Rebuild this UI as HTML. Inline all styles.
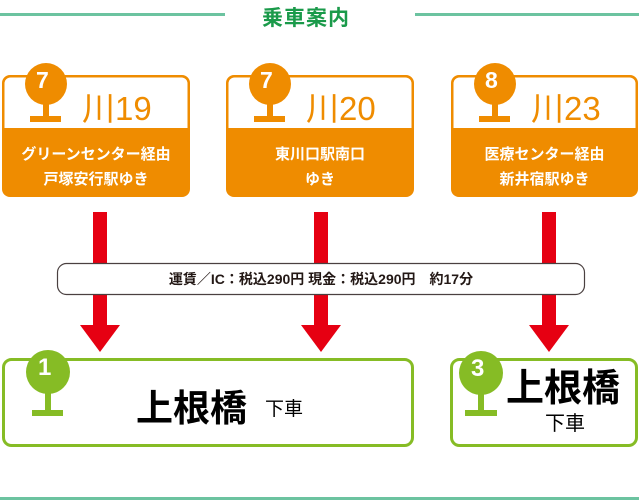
<!DOCTYPE html>
<html><head><meta charset="utf-8"><style>
body{margin:0;width:639px;height:502px;background:#fff;position:relative;overflow:hidden;font-family:"Liberation Sans","Noto Sans CJK JP",sans-serif}
.a{position:absolute;white-space:nowrap}
</style></head><body>
<svg width="639" height="502" style="position:absolute;left:0;top:0">
<rect x="0" y="13" width="225" height="3" fill="#6cc3a0"/>
<rect x="415" y="13" width="224" height="3" fill="#6cc3a0"/>
<rect x="0" y="497" width="639" height="3" fill="#6cc3a0"/>
<g fill="#ef8c00">
<rect x="2" y="75" width="188" height="122" rx="8"/>
<rect x="226" y="75" width="188" height="122" rx="8"/>
<rect x="451" y="75" width="187" height="122" rx="8"/>
</g>
<g fill="#fff">
<rect x="4.5" y="77.5" width="183" height="57" rx="6"/>
<rect x="228.5" y="77.5" width="183" height="57" rx="6"/>
<rect x="453.5" y="77.5" width="182" height="57" rx="6"/>
</g>
<g fill="#ef8c00">
<rect x="4.5" y="128" width="183" height="7"/>
<rect x="228.5" y="128" width="183" height="7"/>
<rect x="453.5" y="128" width="182" height="7"/>
<circle cx="46" cy="84" r="21"/><rect x="43" y="100" width="6" height="18"/><rect x="30" y="116" width="31" height="6"/>
<circle cx="270" cy="84" r="21"/><rect x="267" y="100" width="6" height="18"/><rect x="254" y="116" width="31" height="6"/>
<circle cx="495" cy="84" r="21"/><rect x="492" y="100" width="6" height="18"/><rect x="479" y="116" width="31" height="6"/>
</g>
<g fill="#e60012">
<rect x="93" y="212" width="14" height="115"/><polygon points="80,325 120,325 100,352"/>
<rect x="314" y="212" width="14" height="115"/><polygon points="301,325 341,325 321,352"/>
<rect x="542" y="212" width="14" height="115"/><polygon points="529,325 569,325 549,352"/>
</g>
<rect x="57.5" y="263.5" width="527" height="31" rx="9" fill="#fff" stroke="#4a4040" stroke-width="1.2"/>
<rect x="3.5" y="359.5" width="409" height="86" rx="8" fill="#fff" stroke="#86bc25" stroke-width="3"/>
<rect x="451.5" y="359.5" width="185" height="86" rx="8" fill="#fff" stroke="#86bc25" stroke-width="3"/>
<g fill="#86bc25">
<circle cx="48" cy="372" r="22"/><rect x="45" y="390" width="6" height="22"/><rect x="32" y="410" width="31" height="6"/>
<circle cx="481" cy="373" r="22"/><rect x="478" y="390" width="6" height="22"/><rect x="465" y="410" width="32" height="6"/>
</g>
</svg>
<div class="a" style="left:262px;top:2px;font-size:21px;font-weight:bold;color:#1a9a4a;letter-spacing:1px">乗車案内</div>
<div class="a" style="left:36px;top:67px;font-size:23px;font-weight:bold;color:#fff">7</div>
<div class="a" style="left:260px;top:67px;font-size:23px;font-weight:bold;color:#fff">7</div>
<div class="a" style="left:485px;top:67px;font-size:23px;font-weight:bold;color:#fff">8</div>
<div class="a" style="left:82px;top:82px;font-size:33px;color:#ef8c00">川19</div>
<div class="a" style="left:306px;top:82px;font-size:33px;color:#ef8c00">川20</div>
<div class="a" style="left:531px;top:82px;font-size:33px;color:#ef8c00">川23</div>
<div class="a" style="left:4px;width:184px;top:142px;text-align:center;font-size:15px;font-weight:bold;line-height:25px;color:#fff">グリーンセンター経由<br>戸塚安行駅ゆき</div>
<div class="a" style="left:228px;width:184px;top:142px;text-align:center;font-size:15px;font-weight:bold;line-height:25px;color:#fff">東川口駅南口<br>ゆき</div>
<div class="a" style="left:453px;width:183px;top:142px;text-align:center;font-size:15px;font-weight:bold;line-height:25px;color:#fff">医療センター経由<br>新井宿駅ゆき</div>
<div class="a" style="left:57px;width:528px;top:269px;text-align:center;font-size:14px;font-weight:bold;color:#231815">運賃／IC：税込290円 現金：税込290円　約17分</div>
<div class="a" style="left:38px;top:354px;font-size:24px;font-weight:bold;color:#fff">1</div>
<div class="a" style="left:471px;top:355px;font-size:24px;font-weight:bold;color:#fff">3</div>
<div class="a" style="left:136px;top:378px;font-size:37px;font-weight:bold;color:#000">上根橋</div>
<div class="a" style="left:265px;top:394px;font-size:19px;color:#000">下車</div>
<div class="a" style="left:506px;top:357px;font-size:38px;font-weight:bold;color:#000">上根橋</div>
<div class="a" style="left:545px;top:407px;font-size:20px;color:#000">下車</div>
</body></html>
